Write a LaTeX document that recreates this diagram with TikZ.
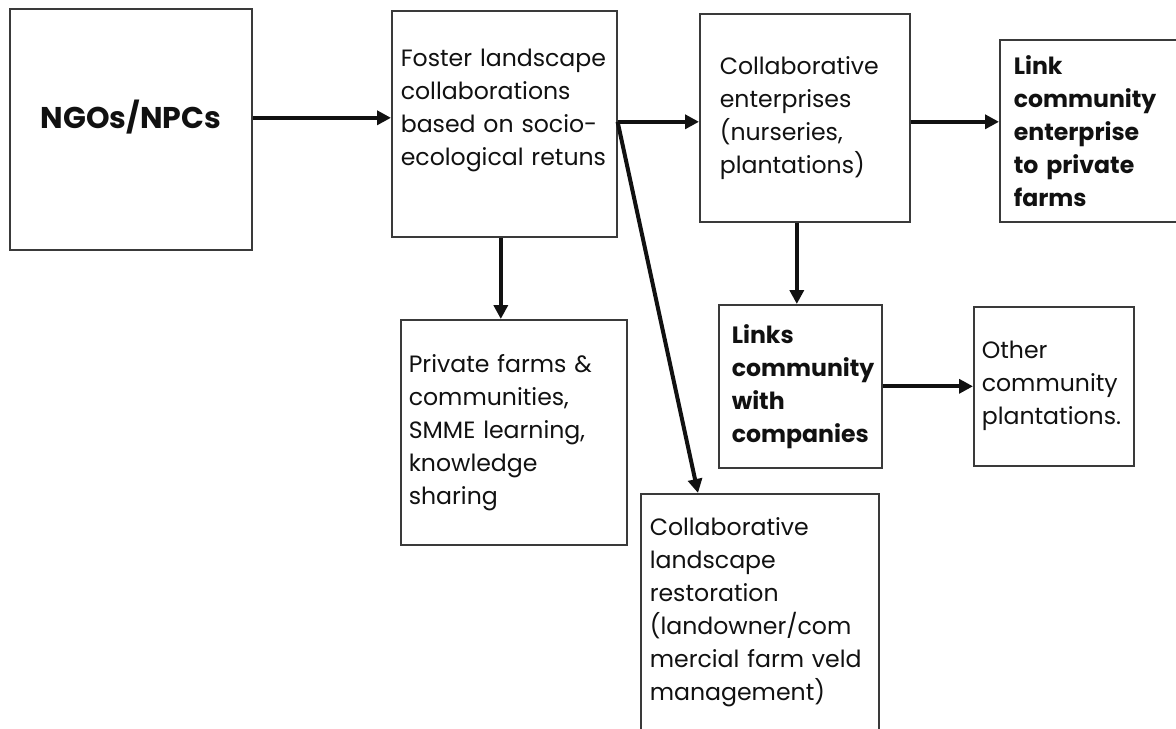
\documentclass[tikz,border=0pt]{standalone}
\usepackage{fontspec}
\setmainfont{Poppins}
\usetikzlibrary{arrows.meta,positioning,calc}
\definecolor{inkline}{HTML}{3A3A3A}
\definecolor{ink}{HTML}{111111}
\hyphenpenalty=10000

\begin{document}
\begin{tikzpicture}[
      x=0.5pt, y=-0.5pt,
      box/.style={rectangle, draw=inkline, line width=0.8pt, anchor=north west,
                  inner ysep=0pt, inner xsep=4.5pt, align=left, text=ink,
                  font=\fontsize{11.8}{16.5}\selectfont},
      boldbox/.style={box, font=\fontsize{11.8}{16.5}\selectfont\bfseries},
      arr/.style={-{Triangle[length=7pt, width=7pt]}, line width=2pt, color=ink}
    ]
      \useasboundingbox (0,0) rectangle (1176,728);
      \node[box, minimum width=121pt, minimum height=120.5pt, align=center,
            font=\fontsize{15}{16}\selectfont\bfseries,
            text height=11pt, text depth=12pt] (ngo) at (9,8) {NGOs/NPCs};
      \node[box, minimum width=112.5pt, minimum height=113pt, text width=103.5pt] (foster) at (391,10)
        {Foster landscape\\collaborations\\based on socio-\\ecological retuns\\~};
      \node[box, minimum width=105pt, minimum height=104pt, inner xsep=10pt, text width=85pt] (collab) at (699,13)
        {Collaborative\\enterprises\\(nurseries,\\plantations)};
      \node[boldbox, minimum width=92.5pt, minimum height=91pt, inner xsep=7pt, text width=78.5pt] (link) at (999,39)
        {Link\\community\\enterprise\\to private\\farms};
      \node[box, minimum width=113pt, minimum height=112.5pt, inner xsep=4pt, text width=105pt] (private) at (400,319)
        {Private farms \&\\communities,\\SMME learning,\\knowledge\\sharing};
      \node[boldbox, minimum width=81.5pt, minimum height=81.5pt, inner xsep=6.5pt, text width=68.5pt] (links) at (718,304)
        {Links\\community\\with\\companies};
      \node[box, minimum width=80pt, minimum height=79.5pt, inner xsep=4pt, text width=72pt] (other) at (973,306)
        {Other\\community\\plantations.};
      \node[box, minimum width=119pt, minimum height=118.5pt, text width=110pt] (restor) at (640,493)
        {Collaborative\\landscape\\restoration\\(landowner/com\\mercial farm veld\\management)};
      \coordinate (restin) at ([xshift=29pt]restor.north west);
      \draw[arr] ([yshift=5.75pt]ngo.east) -- ([yshift=5.75pt]ngo.east -| foster.west);
      \draw[arr] ([yshift=1pt]foster.east) -- ([yshift=1pt]foster.east -| collab.west);
      \draw[arr] ([yshift=1pt]foster.east) -- (restin);
      \draw[arr] ([xshift=-1.75pt]foster.south) -- ([xshift=-1.75pt]foster.south |- private.north);
      \draw[arr] ([yshift=-2pt]collab.east) -- ([yshift=-2pt]collab.east -| link.west);
      \draw[arr] ([xshift=-4pt]collab.south) -- ([xshift=-4pt]collab.south |- links.north);
      \draw[arr] (links) -- (other);
    \end{tikzpicture}
\end{document}
